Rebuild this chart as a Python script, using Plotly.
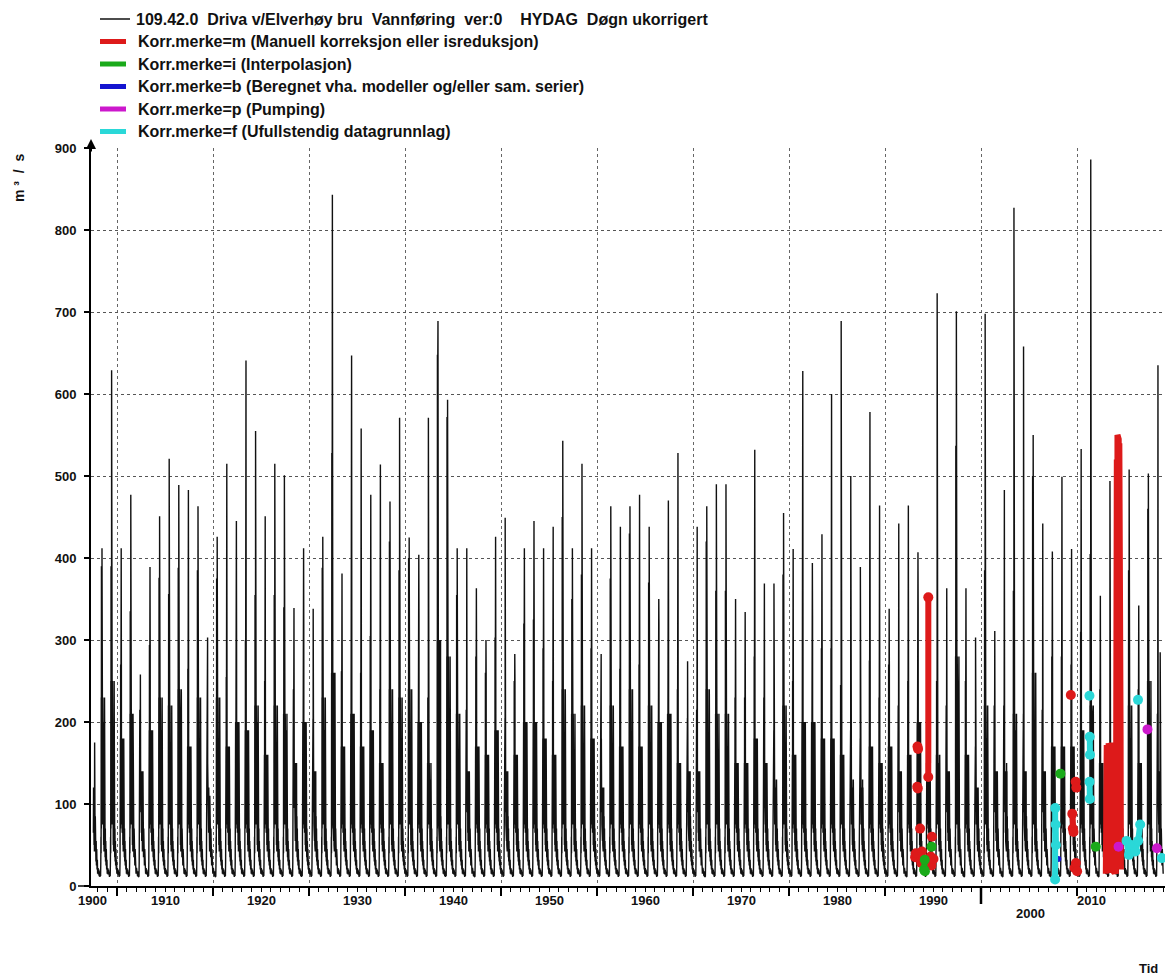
import datetime as dt
import plotly.graph_objects as go

# ---------------------------------------------------------------------------
# Daily discharge, 109.42.0 Driva v/Elverhøy bru (m3/s)
# Each year is described by its annual flood peak, the second snow-melt peak,
# the typical summer level and the main autumn rain flood; the remaining
# seasonal levels are the troughs/baseflow that recur every year.
# ---------------------------------------------------------------------------
years = list(range(1907, 2019))

peak_flow = [
    175, 412, 629, 412, 477, 258, 389, 451, 521, 489,   # 1907-1916
    483, 463, 303, 426, 515, 445, 641, 555, 451, 515,   # 1917-1926
    501, 339, 412, 338, 426, 843, 381, 647, 558, 477,   # 1927-1936
    514, 469, 571, 425, 404, 571, 689, 593, 412, 412,   # 1937-1946
    363, 300, 426, 449, 283, 412, 445, 412, 438, 543,   # 1947-1956
    412, 515, 412, 283, 463, 438, 463, 477, 438, 350,   # 1957-1966
    470, 528, 274, 438, 463, 490, 490, 350, 334, 532,   # 1967-1976
    369, 369, 455, 411, 628, 394, 429, 600, 689, 500,   # 1977-1986
    389, 578, 464, 338, 442, 464, 407, 300, 723, 363,   # 1987-1996
    701, 363, 303, 698, 311, 483, 827, 658, 550, 442,   # 1997-2006
    408, 499, 411, 533, 886, 354, 494, 480, 508, 342,   # 2007-2016
    503, 635,                                           # 2017-2018
]

second_flow = [
    80, 390, 390, 270, 335, 215, 294, 376, 356, 388,
    265, 385, 140, 375, 255, 300, 300, 355, 250, 355,
    340, 240, 320, 204, 388, 528, 262, 350, 260, 305,
    240, 420, 385, 400, 330, 230, 648, 572, 355, 215,
    280, 260, 303, 205, 250, 320, 325, 290, 250, 450,
    350, 380, 290, 180, 375, 265, 430, 270, 370, 320,
    350, 240, 205, 215, 420, 360, 360, 230, 230, 280,
    230, 190, 380, 250, 345, 330, 290, 290, 245, 190,
    180, 275, 230, 270, 220, 250, 340, 250, 250, 220,
    537, 250, 170, 385, 220, 220, 360, 210, 500, 215,
    280, 280, 270, 310, 405, 240, 170, 170, 385, 240,
    460, 210,
]

summer_flow = [
    60, 230, 250, 180, 210, 140, 190, 230, 220, 240,
    170, 230, 110, 230, 170, 200, 190, 220, 160, 220,
    210, 150, 200, 140, 230, 260, 170, 210, 170, 190,
    150, 240, 230, 240, 200, 150, 300, 280, 210, 140,
    170, 160, 190, 140, 160, 200, 200, 180, 160, 240,
    210, 220, 180, 120, 220, 170, 240, 170, 220, 200,
    210, 150, 140, 140, 240, 210, 210, 150, 150, 180,
    150, 130, 220, 160, 200, 200, 180, 180, 160, 130,
    120, 170, 150, 170, 140, 160, 200, 160, 160, 140,
    280, 160, 120, 220, 140, 140, 210, 140, 260, 140,
    170, 170, 170, 190, 220, 150, 120, 120, 220, 150,
    250, 140,
]

autumn_flow = [
    175, 200, 180, 150, 210, 120, 160, 190, 150, 200,
    140, 170, 110, 180, 130, 150, 160, 200, 150, 170,
    190, 120, 160, 140, 190, 220, 130, 170, 150, 160,
    120, 200, 180, 170, 150, 130, 210, 190, 160, 130,
    140, 150, 160, 120, 130, 170, 160, 150, 140, 180,
    160, 170, 150, 110, 160, 140, 180, 150, 170, 150,
    160, 140, 120, 130, 170, 160, 170, 130, 130, 150,
    140, 120, 170, 140, 160, 150, 140, 150, 160, 120,
    130, 150, 140, 150, 130, 140, 160, 130, 150, 130,
    220, 140, 120, 180, 130, 150, 190, 140, 200, 130,
    150, 160, 150, 170, 210, 140, 120, 130, 180, 130,
    190, 285,
]

# (day of year, level): 'P', 'S', 'M', 'A' refer to the per-year arrays
season_levels = [
    (1, 16), (12, 22), (25, 14), (38, 20), (52, 12), (66, 18), (80, 11),
    (95, 15), (106, 12), (114, 30), (120, 60), (125, 40), (130, "M"),
    (134, 70), (138, "S"), (141, 95), (145, "M"), (149, 120), (153, "S"),
    (156, 140), (159, "P"), (162, 150), (166, "S"), (170, 110), (174, "M"),
    (178, 90), (182, "M"), (187, 75), (192, "M"), (197, 65), (203, 120),
    (209, 55), (216, "M"), (222, 50), (229, 95), (236, 42), (244, "A"),
    (250, 60), (256, "M"), (263, 45), (270, 85), (278, 35), (286, 70),
    (294, 30), (303, 55), (313, 25), (324, 45), (336, 20), (348, 32),
    (358, 15),
]
series_start = dt.date(1907, 7, 15)

# Corrected values, by correction code (date, m3/s); None splits segments
flag_m = [
    ("1993-05-12", 121), ("1993-06-02", 119), None,
    ("1993-05-20", 170), ("1993-06-12", 167), None,
    ("1993-08-28", 70), None,
    ("1994-07-05", 133), ("1994-07-06", 352), None,
    ("1994-11-20", 60), None,
    ("1993-02-20", 35), ("1993-03-20", 40), None,
    ("1993-10-10", 28), ("1993-11-05", 42), None,
    ("1994-03-25", 30), None,
    ("1994-10-05", 36), ("1994-11-01", 25), None,
    ("1995-01-20", 33), None,
    ("2009-05-10", 233), None,
    ("2009-07-05", 88), ("2009-07-25", 70), ("2009-08-20", 66), None,
    ("2009-11-10", 127), ("2009-12-05", 120), None,
    ("2009-10-01", 22), ("2009-11-20", 28), ("2010-01-05", 18), None,
]
flag_m_block = [
    ("2013-01-01", 15), ("2013-01-12", 165), ("2013-01-24", 18),
    ("2013-02-05", 172), ("2013-02-17", 20), ("2013-03-01", 168),
    ("2013-03-13", 16), ("2013-03-25", 170), ("2013-04-06", 22),
    ("2013-04-18", 174), ("2013-04-30", 18), ("2013-05-12", 170),
    ("2013-05-24", 20), ("2013-06-05", 168), ("2013-06-17", 24),
    ("2013-06-29", 172), ("2013-07-11", 18), ("2013-07-23", 170),
    ("2013-08-04", 20), ("2013-08-16", 175), ("2013-08-28", 16),
    ("2013-09-09", 172), ("2013-09-21", 22), ("2013-10-03", 170),
    ("2013-10-15", 18), ("2013-10-27", 168), ("2013-11-08", 20),
    ("2013-11-20", 172), ("2013-12-02", 16), ("2013-12-14", 175),
    ("2013-12-26", 18), ("2014-01-07", 240), ("2014-01-19", 15),
    ("2014-01-31", 280), ("2014-02-12", 20), ("2014-02-24", 520),
    ("2014-03-08", 25), ("2014-03-20", 550), ("2014-04-01", 30),
    ("2014-04-13", 548), ("2014-04-25", 25), ("2014-05-07", 545),
    ("2014-05-19", 30), ("2014-05-31", 540), ("2014-06-12", 40),
    ("2014-06-24", 500), ("2014-07-06", 30), ("2014-07-18", 180),
    ("2014-07-30", 20),
]
flag_i = [
    ("1994-01-25", 20), ("1994-02-20", 32), None,
    ("1994-03-01", 18), None,
    ("1994-11-05", 48), None,
    ("2008-04-10", 137), None,
    ("2011-12-15", 48), None,
]
flag_b = [("2008-01-20", 33)]
flag_p = [
    ("2014-05-01", 48), None,
    ("2017-05-05", 191), None,
    ("2018-04-28", 46), None,
]
flag_f = [
    ("2007-09-20", 8), ("2007-09-25", 95), None,
    ("2007-10-10", 75), ("2007-10-20", 50), None,
    ("2011-04-20", 232), None,
    ("2011-05-01", 182), ("2011-05-10", 160), None,
    ("2011-04-25", 127), ("2011-05-05", 106), None,
    ("2015-03-01", 55), ("2015-06-01", 38), ("2015-09-01", 50), None,
    ("2016-02-01", 42), ("2016-05-15", 55), ("2016-08-01", 75), None,
    ("2016-05-10", 227), None,
    ("2018-11-05", 34), None,
]

legend_labels = [
    "109.42.0\u00a0\u00a0Driva v/Elverhøy bru\u00a0\u00a0Vannføring\u00a0\u00a0ver:0"
    "\u00a0\u00a0\u00a0\u00a0HYDAG\u00a0\u00a0Døgn ukorrigert",
    "Korr.merke=m (Manuell korreksjon eller isreduksjon)",
    "Korr.merke=i (Interpolasjon)",
    "Korr.merke=b (Beregnet vha. modeller og/eller sam. serier)",
    "Korr.merke=p (Pumping)",
    "Korr.merke=f (Ufullstendig datagrunnlag)",
]
legend_colors = ["#111111", "#dd1a1a", "#1aaa1a", "#1414d0", "#cc18cc", "#2ad8d8"]

decade_labels = ["1900", "1910", "1920", "1930", "1940", "1950", "1960",
                 "1970", "1980", "1990", "2000", "2010"]
decade_label_dates = ["1907-06-25", "1915-01-01", "1925-01-01", "1935-01-01",
                      "1945-01-01", "1955-01-01", "1965-01-01", "1975-01-01",
                      "1985-01-01", "1995-01-01", "2005-03-01", "2011-07-20"]

# ---------------------------------------------------------------------------
lookup_keys = {"P": peak_flow, "S": second_flow, "M": summer_flow,
               "A": autumn_flow}
flow_x, flow_y = [], []
for i, yr in enumerate(years):
    for day, lvl in season_levels:
        d = dt.date(yr, 1, 1) + dt.timedelta(days=day - 1)
        if d < series_start:
            continue
        flow_x.append(d.isoformat())
        flow_y.append(lookup_keys[lvl][i] if isinstance(lvl, str) else lvl)


def split(points):
    xs = [p[0] if p else None for p in points]
    ys = [p[1] if p else None for p in points]
    return xs, ys


fig = go.Figure()
fig.add_trace(go.Scatter(x=flow_x, y=flow_y, mode="lines",
                         line=dict(color="#111111", width=1.4),
                         hoverinfo="skip"))

bx, by = split(flag_m_block)
fig.add_trace(go.Scatter(x=bx, y=by, mode="lines",
                         line=dict(color=legend_colors[1], width=6)))
for pts, col, msize in [(flag_m, legend_colors[1], 10),
                        (flag_i, legend_colors[2], 10),
                        (flag_b, legend_colors[3], 6),
                        (flag_p, legend_colors[4], 10),
                        (flag_f, legend_colors[5], 10)]:
    xs, ys = split(pts)
    fig.add_trace(go.Scatter(x=xs, y=ys, mode="lines+markers",
                             line=dict(color=col, width=6),
                             marker=dict(color=col, size=msize),
                             connectgaps=False))

# plot-area geometry in pixels, used for layout decorations
W, H = 1169, 978
L, R, T, B = 91, 1165, 148, 886


def px(xp):
    return (xp - L) / (R - L)


def py(yp):
    return (B - yp) / (B - T)


shapes = []
annotations = []

# legend rows
legend_rows = [19, 41.5, 64, 86.5, 109, 131.5]
for k, (lab, col, yrow) in enumerate(zip(legend_labels, legend_colors, legend_rows)):
    if k == 0:
        shapes.append(dict(type="line", xref="paper", yref="paper",
                           x0=px(100), x1=px(130), y0=py(yrow), y1=py(yrow),
                           line=dict(color=col, width=1.5)))
    else:
        shapes.append(dict(type="line", xref="paper", yref="paper",
                           x0=px(100), x1=px(126), y0=py(yrow), y1=py(yrow),
                           line=dict(color=col, width=5)))
    annotations.append(dict(text=lab, xref="paper", yref="paper",
                            x=px(134 if k == 0 else 136), y=py(yrow),
                            xanchor="left", yanchor="middle", showarrow=False,
                            font=dict(size=16, family="Liberation Sans",
                                      color="#111", weight="bold")))

# decade labels under the time axis
for lab, d in zip(decade_labels, decade_label_dates):
    annotations.append(dict(text=lab, x=d, xref="x", yref="paper", y=0,
                            yshift=-(27 if lab == "2000" else 14),
                            yanchor="middle", xanchor="center",
                            showarrow=False,
                            font=dict(size=13, family="Liberation Sans",
                                      color="#111", weight="bold")))

# century tick
shapes.append(dict(type="line", xref="x", yref="paper",
                   x0="2000-01-01", x1="2000-01-01", y0=0, y1=-18 / (B - T),
                   line=dict(color="black", width=2.5)))
# time axis extends a little left of the value axis
shapes.append(dict(type="line", xref="paper", yref="paper",
                   x0=px(78), x1=0, y0=0, y1=0,
                   line=dict(color="black", width=1.5)))

# arrow head on the value axis
annotations.append(dict(text="", xref="paper", yref="paper", x=0, y=py(139),
                        ax=0, ay=14, showarrow=True, arrowhead=2,
                        arrowsize=1, arrowwidth=2, arrowcolor="black"))

annotations.append(dict(text="m\u00a0³\u00a0\u00a0/\u00a0\u00a0s",
                        xref="paper", yref="paper",
                        x=px(19), y=py(178), textangle=-90, showarrow=False,
                        xanchor="center", yanchor="middle",
                        font=dict(size=14, family="Liberation Sans",
                                  color="#111", weight="bold")))
annotations.append(dict(text="Tid", xref="paper", yref="paper",
                        x=px(1148), y=py(968), showarrow=False,
                        xanchor="center", yanchor="middle",
                        font=dict(size=13, family="Liberation Sans",
                                  color="#111", weight="bold")))

fig.update_layout(
    width=W, height=H,
    margin=dict(l=L, r=W - R, t=T, b=H - B),
    plot_bgcolor="white", paper_bgcolor="white",
    showlegend=False,
    font=dict(family="Liberation Sans", color="#111"),
    shapes=shapes, annotations=annotations,
    xaxis=dict(type="date", range=["1907-04-16", "2019-03-03"],
               showgrid=True, gridcolor="#666", griddash="dot", gridwidth=1,
               tick0="1910-01-01", dtick="M120",
               ticks="outside", ticklen=8, tickwidth=1.5, tickcolor="black",
               showticklabels=False, zeroline=False,
               showline=True, linecolor="black", linewidth=1.5,
               minor=dict(tick0="1910-01-01", dtick="M12", ticks="outside",
                          ticklen=4, tickwidth=1, tickcolor="black",
                          showgrid=False)),
    yaxis=dict(range=[0, 900], dtick=100, showgrid=True, gridcolor="#555",
               griddash="dot", gridwidth=1, zeroline=False,
               ticks="outside", ticklen=5, tickwidth=1.5, tickcolor="black",
               showline=True, linecolor="black", linewidth=2,
               ticklabelstandoff=5,
               tickfont=dict(size=13, family="Liberation Sans",
                             color="#111", weight="bold")),
)

fig.write_html("out.html")
